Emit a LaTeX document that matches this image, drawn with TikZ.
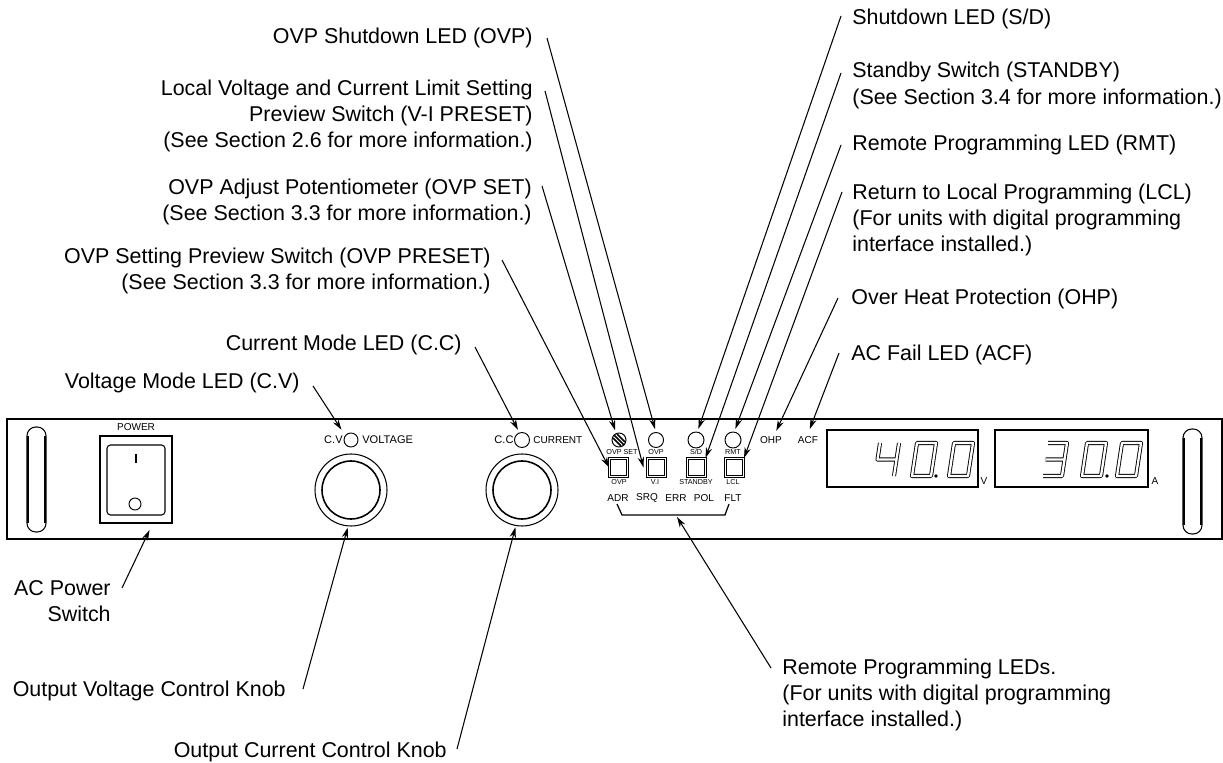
\documentclass[tikz,border=0pt]{standalone}
\usepackage{fontspec}
\setmainfont{Liberation Sans}
\usepackage{tikz}
\usetikzlibrary{arrows.meta}
\def\px{0.02cm}
\newcommand{\segdigit}[3]{
	\begin{scope}[shift={(#1,#2)}]
		\coordinate (a) at (7,2);
		\coordinate (b) at (26,2);
		\coordinate (c) at (4.5,18.5);
		\coordinate (d) at (23.5,18.5);
		\coordinate (e) at (2,35);
		\coordinate (f) at (21,35);
		\draw [digitline] #3;
	\end{scope}
}
\tikzset{
	lbl/.style={inner sep=0pt,font=\fontsize{12.2}{15}\selectfont},
	lead/.style={-{Stealth[length=6pt,width=3.6pt]},line width=0.6pt},
	tinytag/.style={inner sep=0pt,font=\fontsize{4.1}{4}\selectfont},
	tag/.style={inner sep=0pt,font=\fontsize{5.7}{6}\selectfont},
	widetag/.style={inner sep=0pt,font=\fontsize{6.3}{6}\selectfont},
	led/.style={draw,circle,line width=0.55pt,inner sep=0pt,minimum size=15*\px,outer sep=1.9pt},
	knob/.style={draw,circle,line width=0.6pt,inner sep=0pt,minimum size=72*\px,outer sep=1pt},
	switchbox/.style={draw,double,double distance=0.5pt,line width=0.6pt,inner sep=0pt,minimum size=18*\px},
	digitline/.style={line width=0.5pt,double,double distance=1.3pt,line join=round},
	panelline/.style={line width=0.7pt}
}
\begin{document}
\begin{tikzpicture}[>=Stealth,x=\px,y=-\px]
	\useasboundingbox (0,0) rectangle (1223,763);
	% front panel
	\draw [panelline] (7,419) rectangle (1222,539);
	\draw [line width=0.6pt,rounded corners=5pt] (27,427) rectangle (46,532);
	\draw [line width=0.9pt] (28,436)--(28,523) (45,436)--(45,523);
	\draw [line width=0.6pt,rounded corners=5pt] (1183,429) rectangle (1202,534);
	\draw [line width=0.9pt] (1184,438)--(1184,525) (1201,438)--(1201,525);
	% power switch
	\node[tag] (powertag) at (136,427) {POWER};
	\node[draw,line width=0.7pt,inner sep=0pt,minimum width=72*\px,minimum height=87*\px,outer sep=4pt] (powerbox) at (136,479.5) {};
	\draw [line width=0.6pt,rounded corners=2pt] (107,445) rectangle (165,515);
	\draw [line width=0.7pt] (136,454)--(136,463);
	\node[led,minimum size=12*\px] (powerdot) at (135,504) {};
	% knobs
	\node[knob] (voltknob) at (351,490) {};
	\node[draw,circle,line width=0.9pt,inner sep=0pt,minimum size=58*\px] (voltinner) at (351,490) {};
	\node[knob] (currknob) at (522,490) {};
	\node[draw,circle,line width=0.9pt,inner sep=0pt,minimum size=58*\px] (currinner) at (522,490) {};
	\node[led,minimum size=14*\px,outer sep=4pt] (ledcv) at (351,440) {};
	\node[widetag,anchor=east] (tagcv) at (343,440) {C.V};
	\node[widetag,anchor=west] (tagvolt) at (362,440) {VOLTAGE};
	\node[led] (ledcc) at (522,440) {};
	\node[widetag] (tagcc) at (504,440) {C.C};
	\node[tag,anchor=west] (tagcurr) at (533,440) {CURRENT};
	% leds and switches
	\node[led,minimum size=14*\px] (potset) at (619,440) {};
	\draw [line width=0.9pt] (614,435)--(624,445) (617,434)--(625,442) (613,438)--(621,446);
	\node[led] (ledovp) at (656,440) {};
	\node[led,minimum size=16*\px] (ledsd) at (696,440) {};
	\node[led,minimum size=16*\px] (ledrmt) at (733,440) {};
	\node[tinytag] (tagset) at (622,452) {OVP SET};
	\node[tinytag] (tagovp) at (656,452) {OVP};
	\node[tinytag] (tagsd) at (696,452) {S/D};
	\node[tinytag] (tagrmt) at (733,452) {RMT};
	\node[switchbox] (swovp) at (618.5,467.5) {};
	\node[switchbox,outer sep=2pt] (swvi) at (656,467.5) {};
	\node[switchbox] (swstby) at (696,467.5) {};
	\node[switchbox] (swlcl) at (734.5,467.5) {};
	\node[tinytag] (tagovpsw) at (619,482) {OVP};
	\node[tinytag] (tagvi) at (655,482) {V.I};
	\node[tinytag] (tagstby) at (696,482) {STANDBY};
	\node[tinytag] (taglcl) at (733,482) {LCL};
	\node[tag] (tagadr) at (618,498) {ADR};
	\node[tag] (tagsrq) at (647,498) {SRQ};
	\node[tag] (tagerr) at (676,498) {ERR};
	\node[tag] (tagpol) at (704,498) {POL};
	\node[tag] (tagflt) at (733,498) {FLT};
	\draw [line width=0.7pt] (617,504)--(622,515)--(725,515)--(729,504);
	\node[tag] (tagohp) at (771,440) {OHP};
	\node[tag] (tagacf) at (808,440) {ACF};
	% displays
	\draw [line width=0.6pt] (827,430) rectangle (978,487);
	\draw [line width=0.6pt] (995,430) rectangle (1148,487);
	\node[tag] (tagv) at (984,481) {V};
	\node[tag] (taga) at (1155,481) {A};
	\segdigit{873}{441}{(a)--(c)--(d) (b)--(f)}
	\segdigit{910}{441}{(a)--(b)--(f)--(e)--cycle}
	\segdigit{947}{441}{(a)--(b)--(f)--(e)--cycle}
	\segdigit{1041}{441}{(a)--(b)--(f)--(e) (c)--(d)}
	\segdigit{1080}{441}{(a)--(b)--(f)--(e)--cycle}
	\segdigit{1115}{441}{(a)--(b)--(f)--(e)--cycle}
	\fill (936,476)circle(1.8) (1107,476)circle(1.8);
	% labels on the left
	\node[lbl,anchor=east] (lblovp) at (533,38) {OVP Shutdown LED (OVP)};
	\node[lbl,anchor=east,align=right] (lblvi) at (533,116) {Local Voltage and Current Limit Setting\\Preview Switch (V-I PRESET)\\(See Section 2.6 for more information.)};
	\node[lbl,anchor=east,align=right] (lblset) at (532,202) {OVP Adjust Potentiometer (OVP SET)\\(See Section 3.3 for more information.)};
	\node[lbl,anchor=east,align=right] (lblpre) at (491,271) {OVP Setting Preview Switch (OVP PRESET)\\(See Section 3.3 for more information.)};
	\node[lbl,anchor=east] (lblcc) at (462,345) {Current Mode LED (C.C)};
	\node[lbl,anchor=east] (lblcv) at (300,383) {Voltage Mode LED (C.V)};
	\node[lbl,anchor=east,align=right] (lblac) at (111,601) {AC Power\\Switch};
	\node[lbl,anchor=east] (lblvk) at (286,691) {Output Voltage Control Knob};
	\node[lbl,anchor=east] (lblck) at (447,752) {Output Current Control Knob};
	% labels on the right
	\node[lbl,anchor=west] (lblsd) at (852,18.5) {Shutdown LED (S/D)};
	\node[lbl,anchor=west,align=left] (lblstby) at (852,85.5) {Standby Switch (STANDBY)\\(See Section 3.4 for more information.)};
	\node[lbl,anchor=west] (lblrmt) at (852,145) {Remote Programming LED (RMT)};
	\node[lbl,anchor=west,align=left] (lbllcl) at (852,220) {Return to Local Programming (LCL)\\(For units with digital programming\\interface installed.)};
	\node[lbl,anchor=west] (lblohp) at (851,299) {Over Heat Protection (OHP)};
	\node[lbl,anchor=west] (lblacf) at (851,354.5) {AC Fail LED (ACF)};
	\node[lbl,anchor=west,align=left] (lblrem) at (782,695) {Remote Programming LEDs.\\(For units with digital programming\\interface installed.)};
	% free ends of the leaders
	\coordinate (ovpfrom) at (547,38);
	\coordinate (vifrom) at (545,91);
	\coordinate (setfrom) at (542,186);
	\coordinate (prefrom) at (502,260);
	\coordinate (ccfrom) at (475,347);
	\coordinate (cvfrom) at (313,386);
	\coordinate (acfrom) at (122,588);
	\coordinate (vkfrom) at (303,689);
	\coordinate (ckfrom) at (457,749);
	\coordinate (sdfrom) at (841,16);
	\coordinate (stbyfrom) at (841,73);
	\coordinate (rmtfrom) at (841,145);
	\coordinate (lclfrom) at (842,192);
	\coordinate (ohpfrom) at (838,298);
	\coordinate (acffrom) at (839,353);
	\coordinate (remfrom) at (771,668);
	\coordinate (bracketmid) at (677,517);
	% leaders
	\draw [lead] (ovpfrom)--(ledovp.95);
	\draw [lead] (vifrom)--(swvi.west);
	\draw [lead] (setfrom)--(potset.112);
	\draw [lead] (prefrom)--(swovp.west);
	\draw [lead] (ccfrom)--(ledcc.112);
	\draw [lead] (cvfrom)--(ledcv.133);
	\draw [lead] (acfrom)--(powerbox.-75);
	\draw [lead] (vkfrom)--(voltknob.265);
	\draw [lead] (ckfrom)--(currknob.260);
	\draw [lead] (sdfrom)--(ledsd.78);
	\draw [lead] (stbyfrom)--(swstby.north east);
	\draw [lead] (rmtfrom)--(ledrmt.78);
	\draw [lead] (lclfrom)--(swlcl.north east);
	\draw [lead] (ohpfrom)--([xshift=3pt,yshift=3pt]tagohp.north);
	\draw [lead] (acffrom)--([xshift=1pt,yshift=4pt]tagacf.north);
	\draw [lead] (remfrom)--(bracketmid);
\end{tikzpicture}
\end{document}
